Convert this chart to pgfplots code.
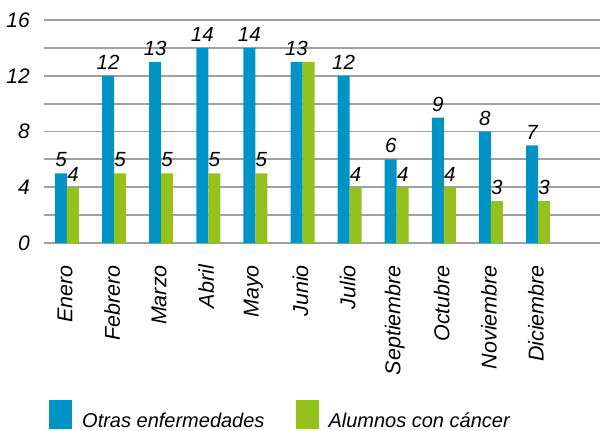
\documentclass[border=0pt]{standalone}
\usepackage{fontspec}
\setmainfont{Liberation Sans}
\usepackage{pgfplots}
\pgfplotsset{compat=1.18}
\usetikzlibrary{calc}
\definecolor{cblue}{RGB}{0,148,198}
\definecolor{cgreen}{RGB}{149,193,31}
\definecolor{cgrid}{RGB}{160,160,160}
\begin{document}
\begin{tikzpicture}
\begin{axis}[
  name=ax,
  scale only axis,
  width=556bp, height=223bp,
  xmin=-0.488, xmax=11.316,
  ymin=0, ymax=16,
  ytick={0,4,8,12,16},
  minor ytick={2,6,10,14},
  ymajorgrids, yminorgrids,
  major grid style={draw=cgrid, line width=1.8bp},
  minor grid style={draw=cgrid, line width=1.8bp},
  major tick length=0pt, minor tick length=0pt,
  axis line style={draw=none},
  xtick={0,...,10},
  xticklabels={Enero,Febrero,Marzo,Abril,Mayo,Junio,Julio,Septiembre,Octubre,Noviembre,Diciembre},
  /pgf/number format/assume math mode=true,
  font=\fontsize{20bp}{24bp}\selectfont\itshape,
  yticklabel style={inner sep=0pt, anchor=east, xshift=-14bp, font=\fontsize{21bp}{24bp}\selectfont\itshape},
  xticklabel style={yshift=-22bp, xshift=-2bp, rotate=90, anchor=east, inner sep=0pt, font=\fontsize{21.5bp}{24bp}\selectfont\itshape},
  ybar=0pt, bar width=12bp,
  nodes near coords,
  nodes near coords style={font=\fontsize{20.5bp}{24bp}\selectfont\itshape, inner sep=0pt, anchor=south, yshift=6bp, text=black},
  point meta=explicit symbolic,
  legend columns=2,
  legend style={at={(axis description cs:0.009,-0.704)}, anchor=north west, draw=none, fill=none, inner sep=0pt,
    font=\fontsize{20bp}{24bp}\selectfont\itshape,
    nodes={inner sep=0pt},
    /tikz/every odd column/.append style={column sep=10bp},
    /tikz/every even column/.append style={column sep=31bp}},
  legend image code/.code={\fill[#1] (0bp,-8bp) rectangle (23bp,21bp);},
]
\addplot[fill=cblue, draw=none] coordinates {
 (0,5) [5] (1,12) [12] (2,13) [13] (3,14) [14] (4,14) [14] (5,13) [13]
 (6,12) [12] (7,6) [6] (8,9) [9] (9,8) [8] (10,7) [7]};
\addlegendentry{Otras enfermedades}
\addplot[fill=cgreen, draw=none] coordinates {
 (0,4) [4] (1,5) [5] (2,5) [5] (3,5) [5] (4,5) [5] (5,13) [{}]
 (6,4) [4] (7,4) [4] (8,4) [4] (9,3) [3] (10,3) [3]};
\addlegendentry{Alumnos con cáncer}
\end{axis}
\pgfresetboundingbox
\useasboundingbox ($(ax.south west)+(-44bp,-188bp)$) rectangle ($(ax.south west)+(556bp,243bp)$);
\end{tikzpicture}
\end{document}
